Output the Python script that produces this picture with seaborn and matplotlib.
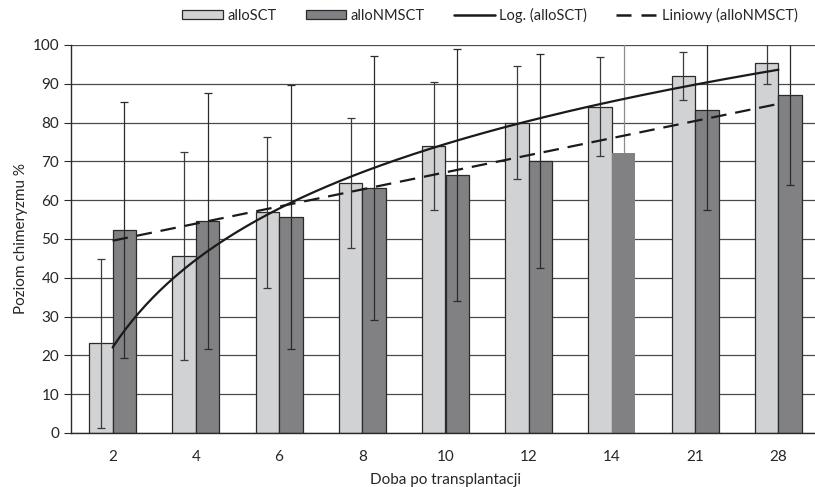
import numpy as np
import pandas as pd
import seaborn as sns
import matplotlib.pyplot as plt
from matplotlib.patches import Patch
from matplotlib.lines import Line2D

# values
days = ['2', '4', '6', '8', '10', '12', '14', '21', '28']
sct_mean = [23.1, 45.6, 56.9, 64.5, 74.0, 80.0, 84.1, 92.0, 95.3]
sct_sd = [21.8, 26.7, 19.5, 16.7, 16.5, 14.5, 12.7, 6.3, 5.4]
nmsct_mean = [52.3, 54.6, 55.7, 63.1, 66.5, 70.2, 72.1, 83.2, 87.0]
nmsct_sd = [33.0, 33.0, 34.0, 34.1, 32.4, 27.6, 30.0, 25.7, 23.1]

groups = ['alloSCT', 'alloNMSCT']
colors = ['#d1d2d4', '#808184']

df = pd.DataFrame({
    'doba': days * 2,
    'grupa': [groups[0]] * len(days) + [groups[1]] * len(days),
    'chimeryzm': sct_mean + nmsct_mean,
})

sns.set_style('white')
plt.rcParams['font.family'] = ['Lato', 'DejaVu Sans']

fig = plt.figure(figsize=(8.15, 4.87), dpi=100)
ax = fig.add_axes([71 / 815, 54 / 487, 749 / 815, 388 / 487])

sns.barplot(data=df, x='doba', y='chimeryzm', hue='grupa', order=days,
            hue_order=groups, palette=colors, width=0.565, errorbar=None,
            edgecolor='#2a2a2a', linewidth=0.9, legend=False, ax=ax, zorder=2)

# error bars (sd), drawn at the bar centres
w = 0.565 / 2
x = np.arange(len(days))
ax.errorbar(x - w / 2, sct_mean, yerr=sct_sd, fmt='none', ecolor='#3a3a3a',
            elinewidth=0.9, capsize=3, capthick=0.9, zorder=3)
for i in range(len(days)):
    if days[i] == '14':
        # only the upper half shows above this bar in the original
        ax.errorbar(x[i] + w / 2, nmsct_mean[i], yerr=[[0], [nmsct_sd[i]]], fmt='none',
                    ecolor='#8c8c8c', elinewidth=0.9, capsize=0, zorder=3)
    else:
        ax.errorbar(x[i] + w / 2, nmsct_mean[i], yerr=nmsct_sd[i], fmt='none',
                    ecolor='#2a2a2a', elinewidth=0.9, capsize=3, capthick=0.9, zorder=3)

# the 14th-day alloNMSCT bar has no outline in the original
ax.patches[len(days) + days.index('14')].set_edgecolor('none')

# trend lines: logarithmic for alloSCT, linear for alloNMSCT
xi = x + 1
a, b = np.polyfit(np.log(xi), sct_mean, 1)
t = np.linspace(1, len(days), 200)
ax.plot(t - 1, a * np.log(t) + b, color='#1a1a1a', lw=1.6, zorder=4)
m, c0 = np.polyfit(xi, nmsct_mean, 1)
ax.plot(x, m * xi + c0, color='#1a1a1a', lw=1.6, ls=(0, (7, 4)), zorder=4)

ax.set_ylim(0, 100)
ax.set_xlim(-0.5, len(days) - 0.5)
ax.set_yticks(range(0, 101, 10))
ax.yaxis.grid(True, color='#4a4a4a', lw=0.9)
ax.set_axisbelow(True)
ax.xaxis.grid(False)
for s in ['top', 'right']:
    ax.spines[s].set_visible(False)
for s in ['left', 'bottom']:
    ax.spines[s].set_color('#2a2a2a')
    ax.spines[s].set_linewidth(1.0)

ax.set_xticks(np.arange(-0.5, len(days), 1), minor=True)
ax.tick_params(axis='x', which='major', length=0, labelsize=11, pad=12)
ax.tick_params(axis='x', which='minor', length=5, color='#2a2a2a', direction='out')
ax.tick_params(axis='y', length=5, color='#2a2a2a', direction='out', labelsize=11, left=True)
ax.set_xlabel('Doba po transplantacji', fontsize=11, labelpad=7)
ax.set_ylabel('Poziom chimeryzmu %', fontsize=11, labelpad=3)

handles = [
    Patch(facecolor=colors[0], edgecolor='#2a2a2a', lw=0.9),
    Patch(facecolor=colors[1], edgecolor='#2a2a2a', lw=0.9),
    Line2D([], [], color='#1a1a1a', lw=1.8),
    Line2D([], [], color='#1a1a1a', lw=1.8, ls=(0, (6, 4))),
]
labels = ['alloSCT', 'alloNMSCT', 'Log. (alloSCT)', 'Liniowy (alloNMSCT)']
fig.legend(handles, labels, loc='center left', bbox_to_anchor=(182 / 815, 1 - 15 / 487),
           ncol=4, frameon=False, fontsize=10.5, handlelength=2.8, handleheight=0.55,
           handletextpad=0.3, columnspacing=2.0, borderaxespad=0, borderpad=0)

fig.savefig('out.png', dpi=100)
